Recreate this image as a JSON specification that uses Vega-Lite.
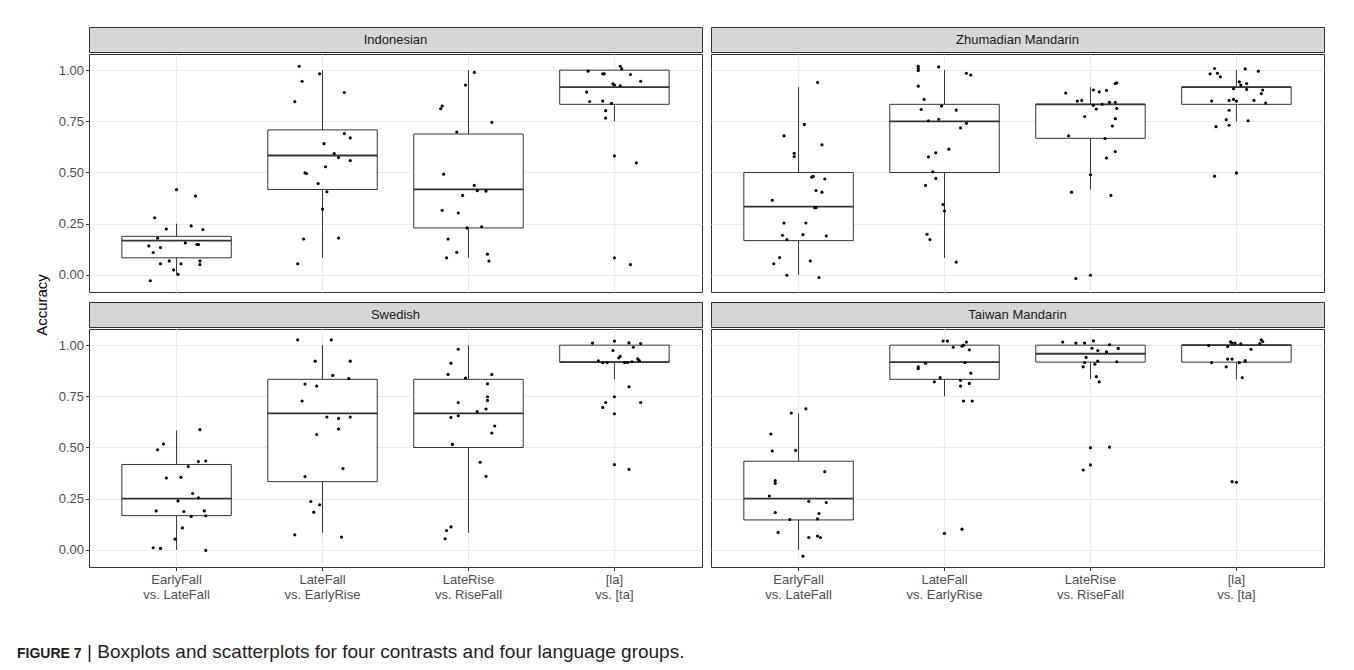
{
"$schema": "https://vega.github.io/schema/vega-lite/v6.json",
"padding": {"left": 17, "top": 26, "right": 5, "bottom": 5},
"background": "white",
"config": {
  "font": "Liberation Sans",
  "view": {"stroke": "#333333", "strokeWidth": 1},
  "axis": {"gridColor": "#EBEBEB", "domain": false, "tickColor": "#333333", "tickSize": 3.5, "labelColor": "#4D4D4D", "labelFontSize": 13, "labelFont": "Liberation Sans", "titleFont": "Liberation Sans", "titleFontWeight": "normal", "titleColor": "#000000", "titleFontSize": 15}
},
"datasets": {
"box": [
{"l":"Indonesian","c":"EarlyFall vs. LateFall","lo":0,"q1":0.083,"med":0.167,"q3":0.188,"hi":0.25},
{"l":"Indonesian","c":"LateFall vs. EarlyRise","lo":0.083,"q1":0.417,"med":0.583,"q3":0.708,"hi":1},
{"l":"Indonesian","c":"LateRise vs. RiseFall","lo":0.083,"q1":0.229,"med":0.417,"q3":0.688,"hi":1},
{"l":"Indonesian","c":"[la] vs. [ta]","lo":0.75,"q1":0.833,"med":0.917,"q3":1,"hi":1},
{"l":"Zhumadian Mandarin","c":"EarlyFall vs. LateFall","lo":0,"q1":0.167,"med":0.333,"q3":0.5,"hi":0.917},
{"l":"Zhumadian Mandarin","c":"LateFall vs. EarlyRise","lo":0.083,"q1":0.5,"med":0.75,"q3":0.833,"hi":1},
{"l":"Zhumadian Mandarin","c":"LateRise vs. RiseFall","lo":0.417,"q1":0.667,"med":0.833,"q3":0.833,"hi":0.917},
{"l":"Zhumadian Mandarin","c":"[la] vs. [ta]","lo":0.75,"q1":0.833,"med":0.917,"q3":0.917,"hi":1},
{"l":"Swedish","c":"EarlyFall vs. LateFall","lo":0,"q1":0.167,"med":0.25,"q3":0.417,"hi":0.583},
{"l":"Swedish","c":"LateFall vs. EarlyRise","lo":0.083,"q1":0.333,"med":0.667,"q3":0.833,"hi":1},
{"l":"Swedish","c":"LateRise vs. RiseFall","lo":0.083,"q1":0.5,"med":0.667,"q3":0.833,"hi":1},
{"l":"Swedish","c":"[la] vs. [ta]","lo":0.833,"q1":0.917,"med":0.917,"q3":1,"hi":1},
{"l":"Taiwan Mandarin","c":"EarlyFall vs. LateFall","lo":0,"q1":0.146,"med":0.25,"q3":0.433,"hi":0.667},
{"l":"Taiwan Mandarin","c":"LateFall vs. EarlyRise","lo":0.75,"q1":0.833,"med":0.917,"q3":1,"hi":1},
{"l":"Taiwan Mandarin","c":"LateRise vs. RiseFall","lo":0.833,"q1":0.917,"med":0.958,"q3":1,"hi":1},
{"l":"Taiwan Mandarin","c":"[la] vs. [ta]","lo":0.833,"q1":0.917,"med":1,"q3":1,"hi":1}
],
"pts": [
{"l":"Indonesian","c":"EarlyFall vs. LateFall","a":0.416,"j":0},
{"l":"Indonesian","c":"EarlyFall vs. LateFall","a":0.385,"j":0.13},
{"l":"Indonesian","c":"EarlyFall vs. LateFall","a":0.279,"j":-0.15},
{"l":"Indonesian","c":"EarlyFall vs. LateFall","a":0.224,"j":-0.07},
{"l":"Indonesian","c":"EarlyFall vs. LateFall","a":0.239,"j":0.1},
{"l":"Indonesian","c":"EarlyFall vs. LateFall","a":0.221,"j":0.18},
{"l":"Indonesian","c":"EarlyFall vs. LateFall","a":0.179,"j":-0.13},
{"l":"Indonesian","c":"EarlyFall vs. LateFall","a":0.141,"j":-0.19},
{"l":"Indonesian","c":"EarlyFall vs. LateFall","a":0.133,"j":-0.11},
{"l":"Indonesian","c":"EarlyFall vs. LateFall","a":0.109,"j":-0.16},
{"l":"Indonesian","c":"EarlyFall vs. LateFall","a":0.156,"j":0.06},
{"l":"Indonesian","c":"EarlyFall vs. LateFall","a":0.148,"j":0.14},
{"l":"Indonesian","c":"EarlyFall vs. LateFall","a":0.148,"j":0.15},
{"l":"Indonesian","c":"EarlyFall vs. LateFall","a":0.068,"j":0.16},
{"l":"Indonesian","c":"EarlyFall vs. LateFall","a":0.05,"j":0.16},
{"l":"Indonesian","c":"EarlyFall vs. LateFall","a":0.054,"j":-0.11},
{"l":"Indonesian","c":"EarlyFall vs. LateFall","a":0.068,"j":-0.05},
{"l":"Indonesian","c":"EarlyFall vs. LateFall","a":0.054,"j":0.03},
{"l":"Indonesian","c":"EarlyFall vs. LateFall","a":0.024,"j":-0.02},
{"l":"Indonesian","c":"EarlyFall vs. LateFall","a":0.002,"j":0.01},
{"l":"Indonesian","c":"EarlyFall vs. LateFall","a":-0.029,"j":-0.18},
{"l":"Indonesian","c":"LateFall vs. EarlyRise","a":1.019,"j":-0.16},
{"l":"Indonesian","c":"LateFall vs. EarlyRise","a":0.946,"j":-0.14},
{"l":"Indonesian","c":"LateFall vs. EarlyRise","a":0.982,"j":-0.02},
{"l":"Indonesian","c":"LateFall vs. EarlyRise","a":0.891,"j":0.15},
{"l":"Indonesian","c":"LateFall vs. EarlyRise","a":0.846,"j":-0.19},
{"l":"Indonesian","c":"LateFall vs. EarlyRise","a":0.69,"j":0.15},
{"l":"Indonesian","c":"LateFall vs. EarlyRise","a":0.669,"j":0.19},
{"l":"Indonesian","c":"LateFall vs. EarlyRise","a":0.641,"j":0.01},
{"l":"Indonesian","c":"LateFall vs. EarlyRise","a":0.593,"j":0.08},
{"l":"Indonesian","c":"LateFall vs. EarlyRise","a":0.573,"j":0.11},
{"l":"Indonesian","c":"LateFall vs. EarlyRise","a":0.558,"j":0.19},
{"l":"Indonesian","c":"LateFall vs. EarlyRise","a":0.528,"j":0.02},
{"l":"Indonesian","c":"LateFall vs. EarlyRise","a":0.498,"j":-0.12},
{"l":"Indonesian","c":"LateFall vs. EarlyRise","a":0.495,"j":-0.11},
{"l":"Indonesian","c":"LateFall vs. EarlyRise","a":0.446,"j":-0.03},
{"l":"Indonesian","c":"LateFall vs. EarlyRise","a":0.406,"j":0.03},
{"l":"Indonesian","c":"LateFall vs. EarlyRise","a":0.321,"j":0},
{"l":"Indonesian","c":"LateFall vs. EarlyRise","a":0.175,"j":-0.13},
{"l":"Indonesian","c":"LateFall vs. EarlyRise","a":0.18,"j":0.11},
{"l":"Indonesian","c":"LateFall vs. EarlyRise","a":0.054,"j":-0.17},
{"l":"Indonesian","c":"LateRise vs. RiseFall","a":0.989,"j":0.04},
{"l":"Indonesian","c":"LateRise vs. RiseFall","a":0.927,"j":-0.02},
{"l":"Indonesian","c":"LateRise vs. RiseFall","a":0.812,"j":-0.19},
{"l":"Indonesian","c":"LateRise vs. RiseFall","a":0.825,"j":-0.18},
{"l":"Indonesian","c":"LateRise vs. RiseFall","a":0.745,"j":0.16},
{"l":"Indonesian","c":"LateRise vs. RiseFall","a":0.698,"j":-0.08},
{"l":"Indonesian","c":"LateRise vs. RiseFall","a":0.492,"j":-0.17},
{"l":"Indonesian","c":"LateRise vs. RiseFall","a":0.437,"j":0.04},
{"l":"Indonesian","c":"LateRise vs. RiseFall","a":0.411,"j":0.06},
{"l":"Indonesian","c":"LateRise vs. RiseFall","a":0.409,"j":0.12},
{"l":"Indonesian","c":"LateRise vs. RiseFall","a":0.388,"j":-0.04},
{"l":"Indonesian","c":"LateRise vs. RiseFall","a":0.315,"j":-0.18},
{"l":"Indonesian","c":"LateRise vs. RiseFall","a":0.302,"j":-0.07},
{"l":"Indonesian","c":"LateRise vs. RiseFall","a":0.229,"j":-0.01},
{"l":"Indonesian","c":"LateRise vs. RiseFall","a":0.235,"j":0.09},
{"l":"Indonesian","c":"LateRise vs. RiseFall","a":0.175,"j":-0.14},
{"l":"Indonesian","c":"LateRise vs. RiseFall","a":0.11,"j":-0.08},
{"l":"Indonesian","c":"LateRise vs. RiseFall","a":0.083,"j":-0.15},
{"l":"Indonesian","c":"LateRise vs. RiseFall","a":0.101,"j":0.13},
{"l":"Indonesian","c":"LateRise vs. RiseFall","a":0.067,"j":0.14},
{"l":"Indonesian","c":"[la] vs. [ta]","a":1.019,"j":0.04},
{"l":"Indonesian","c":"[la] vs. [ta]","a":1.006,"j":0.05},
{"l":"Indonesian","c":"[la] vs. [ta]","a":0.995,"j":-0.18},
{"l":"Indonesian","c":"[la] vs. [ta]","a":0.982,"j":-0.08},
{"l":"Indonesian","c":"[la] vs. [ta]","a":0.982,"j":-0.07},
{"l":"Indonesian","c":"[la] vs. [ta]","a":0.979,"j":0.11},
{"l":"Indonesian","c":"[la] vs. [ta]","a":0.946,"j":0.18},
{"l":"Indonesian","c":"[la] vs. [ta]","a":0.933,"j":-0.01},
{"l":"Indonesian","c":"[la] vs. [ta]","a":0.927,"j":0},
{"l":"Indonesian","c":"[la] vs. [ta]","a":0.924,"j":0.04},
{"l":"Indonesian","c":"[la] vs. [ta]","a":0.893,"j":-0.19},
{"l":"Indonesian","c":"[la] vs. [ta]","a":0.847,"j":-0.17},
{"l":"Indonesian","c":"[la] vs. [ta]","a":0.849,"j":-0.08},
{"l":"Indonesian","c":"[la] vs. [ta]","a":0.838,"j":-0.02},
{"l":"Indonesian","c":"[la] vs. [ta]","a":0.802,"j":-0.06},
{"l":"Indonesian","c":"[la] vs. [ta]","a":0.766,"j":-0.06},
{"l":"Indonesian","c":"[la] vs. [ta]","a":0.581,"j":0},
{"l":"Indonesian","c":"[la] vs. [ta]","a":0.547,"j":0.15},
{"l":"Indonesian","c":"[la] vs. [ta]","a":0.083,"j":0},
{"l":"Indonesian","c":"[la] vs. [ta]","a":0.05,"j":0.11},
{"l":"Zhumadian Mandarin","c":"EarlyFall vs. LateFall","a":0.94,"j":0.13},
{"l":"Zhumadian Mandarin","c":"EarlyFall vs. LateFall","a":0.735,"j":0.04},
{"l":"Zhumadian Mandarin","c":"EarlyFall vs. LateFall","a":0.679,"j":-0.1},
{"l":"Zhumadian Mandarin","c":"EarlyFall vs. LateFall","a":0.635,"j":0.16},
{"l":"Zhumadian Mandarin","c":"EarlyFall vs. LateFall","a":0.594,"j":-0.03},
{"l":"Zhumadian Mandarin","c":"EarlyFall vs. LateFall","a":0.578,"j":-0.03},
{"l":"Zhumadian Mandarin","c":"EarlyFall vs. LateFall","a":0.481,"j":0.1},
{"l":"Zhumadian Mandarin","c":"EarlyFall vs. LateFall","a":0.477,"j":0.09},
{"l":"Zhumadian Mandarin","c":"EarlyFall vs. LateFall","a":0.468,"j":0.18},
{"l":"Zhumadian Mandarin","c":"EarlyFall vs. LateFall","a":0.412,"j":0.12},
{"l":"Zhumadian Mandarin","c":"EarlyFall vs. LateFall","a":0.404,"j":0.16},
{"l":"Zhumadian Mandarin","c":"EarlyFall vs. LateFall","a":0.364,"j":-0.18},
{"l":"Zhumadian Mandarin","c":"EarlyFall vs. LateFall","a":0.328,"j":0.11},
{"l":"Zhumadian Mandarin","c":"EarlyFall vs. LateFall","a":0.328,"j":0.12},
{"l":"Zhumadian Mandarin","c":"EarlyFall vs. LateFall","a":0.253,"j":-0.1},
{"l":"Zhumadian Mandarin","c":"EarlyFall vs. LateFall","a":0.253,"j":0.05},
{"l":"Zhumadian Mandarin","c":"EarlyFall vs. LateFall","a":0.193,"j":-0.11},
{"l":"Zhumadian Mandarin","c":"EarlyFall vs. LateFall","a":0.196,"j":0.03},
{"l":"Zhumadian Mandarin","c":"EarlyFall vs. LateFall","a":0.19,"j":0.19},
{"l":"Zhumadian Mandarin","c":"EarlyFall vs. LateFall","a":0.172,"j":-0.08},
{"l":"Zhumadian Mandarin","c":"EarlyFall vs. LateFall","a":0.084,"j":-0.13},
{"l":"Zhumadian Mandarin","c":"EarlyFall vs. LateFall","a":0.054,"j":-0.17},
{"l":"Zhumadian Mandarin","c":"EarlyFall vs. LateFall","a":0.068,"j":0.08},
{"l":"Zhumadian Mandarin","c":"EarlyFall vs. LateFall","a":-0.002,"j":-0.08},
{"l":"Zhumadian Mandarin","c":"EarlyFall vs. LateFall","a":-0.013,"j":0.14},
{"l":"Zhumadian Mandarin","c":"LateFall vs. EarlyRise","a":1.019,"j":-0.18},
{"l":"Zhumadian Mandarin","c":"LateFall vs. EarlyRise","a":1.008,"j":-0.18},
{"l":"Zhumadian Mandarin","c":"LateFall vs. EarlyRise","a":0.998,"j":-0.18},
{"l":"Zhumadian Mandarin","c":"LateFall vs. EarlyRise","a":1.016,"j":-0.04},
{"l":"Zhumadian Mandarin","c":"LateFall vs. EarlyRise","a":0.985,"j":0.15},
{"l":"Zhumadian Mandarin","c":"LateFall vs. EarlyRise","a":0.976,"j":0.18},
{"l":"Zhumadian Mandarin","c":"LateFall vs. EarlyRise","a":0.922,"j":-0.18},
{"l":"Zhumadian Mandarin","c":"LateFall vs. EarlyRise","a":0.857,"j":-0.14},
{"l":"Zhumadian Mandarin","c":"LateFall vs. EarlyRise","a":0.825,"j":-0.02},
{"l":"Zhumadian Mandarin","c":"LateFall vs. EarlyRise","a":0.808,"j":-0.16},
{"l":"Zhumadian Mandarin","c":"LateFall vs. EarlyRise","a":0.805,"j":0.08},
{"l":"Zhumadian Mandarin","c":"LateFall vs. EarlyRise","a":0.753,"j":-0.11},
{"l":"Zhumadian Mandarin","c":"LateFall vs. EarlyRise","a":0.76,"j":-0.04},
{"l":"Zhumadian Mandarin","c":"LateFall vs. EarlyRise","a":0.74,"j":0.15},
{"l":"Zhumadian Mandarin","c":"LateFall vs. EarlyRise","a":0.718,"j":0.11},
{"l":"Zhumadian Mandarin","c":"LateFall vs. EarlyRise","a":0.614,"j":0.03},
{"l":"Zhumadian Mandarin","c":"LateFall vs. EarlyRise","a":0.596,"j":-0.06},
{"l":"Zhumadian Mandarin","c":"LateFall vs. EarlyRise","a":0.576,"j":-0.11},
{"l":"Zhumadian Mandarin","c":"LateFall vs. EarlyRise","a":0.503,"j":-0.08},
{"l":"Zhumadian Mandarin","c":"LateFall vs. EarlyRise","a":0.471,"j":-0.06},
{"l":"Zhumadian Mandarin","c":"LateFall vs. EarlyRise","a":0.437,"j":-0.13},
{"l":"Zhumadian Mandarin","c":"LateFall vs. EarlyRise","a":0.343,"j":-0.01},
{"l":"Zhumadian Mandarin","c":"LateFall vs. EarlyRise","a":0.312,"j":0},
{"l":"Zhumadian Mandarin","c":"LateFall vs. EarlyRise","a":0.198,"j":-0.12},
{"l":"Zhumadian Mandarin","c":"LateFall vs. EarlyRise","a":0.172,"j":-0.1},
{"l":"Zhumadian Mandarin","c":"LateFall vs. EarlyRise","a":0.062,"j":0.08},
{"l":"Zhumadian Mandarin","c":"LateRise vs. RiseFall","a":0.938,"j":0.18},
{"l":"Zhumadian Mandarin","c":"LateRise vs. RiseFall","a":0.935,"j":0.17},
{"l":"Zhumadian Mandarin","c":"LateRise vs. RiseFall","a":0.888,"j":-0.17},
{"l":"Zhumadian Mandarin","c":"LateRise vs. RiseFall","a":0.903,"j":0.02},
{"l":"Zhumadian Mandarin","c":"LateRise vs. RiseFall","a":0.894,"j":0.06},
{"l":"Zhumadian Mandarin","c":"LateRise vs. RiseFall","a":0.901,"j":0.11},
{"l":"Zhumadian Mandarin","c":"LateRise vs. RiseFall","a":0.849,"j":-0.09},
{"l":"Zhumadian Mandarin","c":"LateRise vs. RiseFall","a":0.852,"j":-0.06},
{"l":"Zhumadian Mandarin","c":"LateRise vs. RiseFall","a":0.843,"j":0.13},
{"l":"Zhumadian Mandarin","c":"LateRise vs. RiseFall","a":0.843,"j":0.17},
{"l":"Zhumadian Mandarin","c":"LateRise vs. RiseFall","a":0.828,"j":0.02},
{"l":"Zhumadian Mandarin","c":"LateRise vs. RiseFall","a":0.833,"j":0.08},
{"l":"Zhumadian Mandarin","c":"LateRise vs. RiseFall","a":0.81,"j":0.04},
{"l":"Zhumadian Mandarin","c":"LateRise vs. RiseFall","a":0.813,"j":0.18},
{"l":"Zhumadian Mandarin","c":"LateRise vs. RiseFall","a":0.773,"j":-0.04},
{"l":"Zhumadian Mandarin","c":"LateRise vs. RiseFall","a":0.763,"j":0.17},
{"l":"Zhumadian Mandarin","c":"LateRise vs. RiseFall","a":0.727,"j":0.15},
{"l":"Zhumadian Mandarin","c":"LateRise vs. RiseFall","a":0.679,"j":-0.15},
{"l":"Zhumadian Mandarin","c":"LateRise vs. RiseFall","a":0.666,"j":0.1},
{"l":"Zhumadian Mandarin","c":"LateRise vs. RiseFall","a":0.602,"j":0.17},
{"l":"Zhumadian Mandarin","c":"LateRise vs. RiseFall","a":0.571,"j":0.11},
{"l":"Zhumadian Mandarin","c":"LateRise vs. RiseFall","a":0.489,"j":0},
{"l":"Zhumadian Mandarin","c":"LateRise vs. RiseFall","a":0.404,"j":-0.13},
{"l":"Zhumadian Mandarin","c":"LateRise vs. RiseFall","a":0.388,"j":0.14},
{"l":"Zhumadian Mandarin","c":"LateRise vs. RiseFall","a":-0.018,"j":-0.1},
{"l":"Zhumadian Mandarin","c":"LateRise vs. RiseFall","a":-0.002,"j":0},
{"l":"Zhumadian Mandarin","c":"[la] vs. [ta]","a":1.008,"j":-0.15},
{"l":"Zhumadian Mandarin","c":"[la] vs. [ta]","a":1.006,"j":0.06},
{"l":"Zhumadian Mandarin","c":"[la] vs. [ta]","a":0.982,"j":-0.18},
{"l":"Zhumadian Mandarin","c":"[la] vs. [ta]","a":0.985,"j":-0.13},
{"l":"Zhumadian Mandarin","c":"[la] vs. [ta]","a":0.968,"j":-0.11},
{"l":"Zhumadian Mandarin","c":"[la] vs. [ta]","a":0.995,"j":0.15},
{"l":"Zhumadian Mandarin","c":"[la] vs. [ta]","a":0.943,"j":0.02},
{"l":"Zhumadian Mandarin","c":"[la] vs. [ta]","a":0.927,"j":0.03},
{"l":"Zhumadian Mandarin","c":"[la] vs. [ta]","a":0.935,"j":0.07},
{"l":"Zhumadian Mandarin","c":"[la] vs. [ta]","a":0.909,"j":-0.02},
{"l":"Zhumadian Mandarin","c":"[la] vs. [ta]","a":0.906,"j":0.07},
{"l":"Zhumadian Mandarin","c":"[la] vs. [ta]","a":0.903,"j":0.18},
{"l":"Zhumadian Mandarin","c":"[la] vs. [ta]","a":0.885,"j":0.17},
{"l":"Zhumadian Mandarin","c":"[la] vs. [ta]","a":0.849,"j":-0.17},
{"l":"Zhumadian Mandarin","c":"[la] vs. [ta]","a":0.852,"j":-0.05},
{"l":"Zhumadian Mandarin","c":"[la] vs. [ta]","a":0.857,"j":-0.02},
{"l":"Zhumadian Mandarin","c":"[la] vs. [ta]","a":0.849,"j":0},
{"l":"Zhumadian Mandarin","c":"[la] vs. [ta]","a":0.852,"j":0.12},
{"l":"Zhumadian Mandarin","c":"[la] vs. [ta]","a":0.839,"j":0.2},
{"l":"Zhumadian Mandarin","c":"[la] vs. [ta]","a":0.804,"j":-0.05},
{"l":"Zhumadian Mandarin","c":"[la] vs. [ta]","a":0.758,"j":-0.07},
{"l":"Zhumadian Mandarin","c":"[la] vs. [ta]","a":0.753,"j":0.08},
{"l":"Zhumadian Mandarin","c":"[la] vs. [ta]","a":0.724,"j":-0.14},
{"l":"Zhumadian Mandarin","c":"[la] vs. [ta]","a":0.731,"j":-0.05},
{"l":"Zhumadian Mandarin","c":"[la] vs. [ta]","a":0.482,"j":-0.15},
{"l":"Zhumadian Mandarin","c":"[la] vs. [ta]","a":0.498,"j":0},
{"l":"Swedish","c":"EarlyFall vs. LateFall","a":0.587,"j":0.16},
{"l":"Swedish","c":"EarlyFall vs. LateFall","a":0.517,"j":-0.09},
{"l":"Swedish","c":"EarlyFall vs. LateFall","a":0.489,"j":-0.13},
{"l":"Swedish","c":"EarlyFall vs. LateFall","a":0.434,"j":0.2},
{"l":"Swedish","c":"EarlyFall vs. LateFall","a":0.431,"j":0.15},
{"l":"Swedish","c":"EarlyFall vs. LateFall","a":0.407,"j":0.08},
{"l":"Swedish","c":"EarlyFall vs. LateFall","a":0.351,"j":-0.07},
{"l":"Swedish","c":"EarlyFall vs. LateFall","a":0.354,"j":0.03},
{"l":"Swedish","c":"EarlyFall vs. LateFall","a":0.275,"j":0.11},
{"l":"Swedish","c":"EarlyFall vs. LateFall","a":0.254,"j":0.15},
{"l":"Swedish","c":"EarlyFall vs. LateFall","a":0.239,"j":0.01},
{"l":"Swedish","c":"EarlyFall vs. LateFall","a":0.19,"j":-0.14},
{"l":"Swedish","c":"EarlyFall vs. LateFall","a":0.187,"j":0.05},
{"l":"Swedish","c":"EarlyFall vs. LateFall","a":0.19,"j":0.19},
{"l":"Swedish","c":"EarlyFall vs. LateFall","a":0.163,"j":0.1},
{"l":"Swedish","c":"EarlyFall vs. LateFall","a":0.166,"j":0.2},
{"l":"Swedish","c":"EarlyFall vs. LateFall","a":0.107,"j":0.04},
{"l":"Swedish","c":"EarlyFall vs. LateFall","a":0.052,"j":-0.01},
{"l":"Swedish","c":"EarlyFall vs. LateFall","a":0.01,"j":-0.16},
{"l":"Swedish","c":"EarlyFall vs. LateFall","a":0.007,"j":-0.11},
{"l":"Swedish","c":"EarlyFall vs. LateFall","a":-0.003,"j":0.2},
{"l":"Swedish","c":"LateFall vs. EarlyRise","a":1.026,"j":-0.17},
{"l":"Swedish","c":"LateFall vs. EarlyRise","a":1.026,"j":0.06},
{"l":"Swedish","c":"LateFall vs. EarlyRise","a":0.922,"j":-0.05},
{"l":"Swedish","c":"LateFall vs. EarlyRise","a":0.922,"j":0.19},
{"l":"Swedish","c":"LateFall vs. EarlyRise","a":0.852,"j":0.07},
{"l":"Swedish","c":"LateFall vs. EarlyRise","a":0.837,"j":0.18},
{"l":"Swedish","c":"LateFall vs. EarlyRise","a":0.81,"j":-0.12},
{"l":"Swedish","c":"LateFall vs. EarlyRise","a":0.8,"j":-0.04},
{"l":"Swedish","c":"LateFall vs. EarlyRise","a":0.727,"j":-0.14},
{"l":"Swedish","c":"LateFall vs. EarlyRise","a":0.649,"j":0.03},
{"l":"Swedish","c":"LateFall vs. EarlyRise","a":0.642,"j":0.11},
{"l":"Swedish","c":"LateFall vs. EarlyRise","a":0.649,"j":0.19},
{"l":"Swedish","c":"LateFall vs. EarlyRise","a":0.59,"j":0.11},
{"l":"Swedish","c":"LateFall vs. EarlyRise","a":0.563,"j":-0.04},
{"l":"Swedish","c":"LateFall vs. EarlyRise","a":0.397,"j":0.14},
{"l":"Swedish","c":"LateFall vs. EarlyRise","a":0.358,"j":-0.12},
{"l":"Swedish","c":"LateFall vs. EarlyRise","a":0.236,"j":-0.08},
{"l":"Swedish","c":"LateFall vs. EarlyRise","a":0.22,"j":-0.02},
{"l":"Swedish","c":"LateFall vs. EarlyRise","a":0.184,"j":-0.06},
{"l":"Swedish","c":"LateFall vs. EarlyRise","a":0.073,"j":-0.19},
{"l":"Swedish","c":"LateFall vs. EarlyRise","a":0.062,"j":0.13},
{"l":"Swedish","c":"LateRise vs. RiseFall","a":0.98,"j":-0.07},
{"l":"Swedish","c":"LateRise vs. RiseFall","a":0.912,"j":-0.12},
{"l":"Swedish","c":"LateRise vs. RiseFall","a":0.857,"j":-0.14},
{"l":"Swedish","c":"LateRise vs. RiseFall","a":0.839,"j":-0.02},
{"l":"Swedish","c":"LateRise vs. RiseFall","a":0.857,"j":0.16},
{"l":"Swedish","c":"LateRise vs. RiseFall","a":0.811,"j":0.13},
{"l":"Swedish","c":"LateRise vs. RiseFall","a":0.748,"j":0.13},
{"l":"Swedish","c":"LateRise vs. RiseFall","a":0.73,"j":0.13},
{"l":"Swedish","c":"LateRise vs. RiseFall","a":0.72,"j":-0.07},
{"l":"Swedish","c":"LateRise vs. RiseFall","a":0.675,"j":0.06},
{"l":"Swedish","c":"LateRise vs. RiseFall","a":0.688,"j":0.12},
{"l":"Swedish","c":"LateRise vs. RiseFall","a":0.655,"j":-0.07},
{"l":"Swedish","c":"LateRise vs. RiseFall","a":0.647,"j":-0.12},
{"l":"Swedish","c":"LateRise vs. RiseFall","a":0.605,"j":0.18},
{"l":"Swedish","c":"LateRise vs. RiseFall","a":0.571,"j":0.16},
{"l":"Swedish","c":"LateRise vs. RiseFall","a":0.515,"j":-0.11},
{"l":"Swedish","c":"LateRise vs. RiseFall","a":0.428,"j":0.08},
{"l":"Swedish","c":"LateRise vs. RiseFall","a":0.359,"j":0.12},
{"l":"Swedish","c":"LateRise vs. RiseFall","a":0.112,"j":-0.12},
{"l":"Swedish","c":"LateRise vs. RiseFall","a":0.094,"j":-0.15},
{"l":"Swedish","c":"LateRise vs. RiseFall","a":0.054,"j":-0.16},
{"l":"Swedish","c":"[la] vs. [ta]","a":1.01,"j":-0.15},
{"l":"Swedish","c":"[la] vs. [ta]","a":1.02,"j":0},
{"l":"Swedish","c":"[la] vs. [ta]","a":1.011,"j":0.1},
{"l":"Swedish","c":"[la] vs. [ta]","a":1.008,"j":0.18},
{"l":"Swedish","c":"[la] vs. [ta]","a":0.99,"j":0.13},
{"l":"Swedish","c":"[la] vs. [ta]","a":0.974,"j":-0.01},
{"l":"Swedish","c":"[la] vs. [ta]","a":0.945,"j":0.04},
{"l":"Swedish","c":"[la] vs. [ta]","a":0.938,"j":0.03},
{"l":"Swedish","c":"[la] vs. [ta]","a":0.933,"j":0.16},
{"l":"Swedish","c":"[la] vs. [ta]","a":0.925,"j":0.17},
{"l":"Swedish","c":"[la] vs. [ta]","a":0.924,"j":-0.11},
{"l":"Swedish","c":"[la] vs. [ta]","a":0.914,"j":-0.08},
{"l":"Swedish","c":"[la] vs. [ta]","a":0.915,"j":-0.05},
{"l":"Swedish","c":"[la] vs. [ta]","a":0.915,"j":0.07},
{"l":"Swedish","c":"[la] vs. [ta]","a":0.915,"j":0.09},
{"l":"Swedish","c":"[la] vs. [ta]","a":0.919,"j":0.12},
{"l":"Swedish","c":"[la] vs. [ta]","a":0.797,"j":0.1},
{"l":"Swedish","c":"[la] vs. [ta]","a":0.748,"j":0},
{"l":"Swedish","c":"[la] vs. [ta]","a":0.72,"j":-0.06},
{"l":"Swedish","c":"[la] vs. [ta]","a":0.696,"j":-0.08},
{"l":"Swedish","c":"[la] vs. [ta]","a":0.72,"j":0.18},
{"l":"Swedish","c":"[la] vs. [ta]","a":0.665,"j":0},
{"l":"Swedish","c":"[la] vs. [ta]","a":0.416,"j":0},
{"l":"Swedish","c":"[la] vs. [ta]","a":0.393,"j":0.1},
{"l":"Taiwan Mandarin","c":"EarlyFall vs. LateFall","a":0.689,"j":0.05},
{"l":"Taiwan Mandarin","c":"EarlyFall vs. LateFall","a":0.668,"j":-0.05},
{"l":"Taiwan Mandarin","c":"EarlyFall vs. LateFall","a":0.566,"j":-0.19},
{"l":"Taiwan Mandarin","c":"EarlyFall vs. LateFall","a":0.483,"j":-0.18},
{"l":"Taiwan Mandarin","c":"EarlyFall vs. LateFall","a":0.486,"j":-0.02},
{"l":"Taiwan Mandarin","c":"EarlyFall vs. LateFall","a":0.382,"j":0.18},
{"l":"Taiwan Mandarin","c":"EarlyFall vs. LateFall","a":0.338,"j":-0.16},
{"l":"Taiwan Mandarin","c":"EarlyFall vs. LateFall","a":0.325,"j":-0.16},
{"l":"Taiwan Mandarin","c":"EarlyFall vs. LateFall","a":0.263,"j":-0.2},
{"l":"Taiwan Mandarin","c":"EarlyFall vs. LateFall","a":0.237,"j":0.07},
{"l":"Taiwan Mandarin","c":"EarlyFall vs. LateFall","a":0.231,"j":0.19},
{"l":"Taiwan Mandarin","c":"EarlyFall vs. LateFall","a":0.182,"j":-0.16},
{"l":"Taiwan Mandarin","c":"EarlyFall vs. LateFall","a":0.177,"j":0.14},
{"l":"Taiwan Mandarin","c":"EarlyFall vs. LateFall","a":0.148,"j":-0.06},
{"l":"Taiwan Mandarin","c":"EarlyFall vs. LateFall","a":0.151,"j":0.13},
{"l":"Taiwan Mandarin","c":"EarlyFall vs. LateFall","a":0.085,"j":-0.14},
{"l":"Taiwan Mandarin","c":"EarlyFall vs. LateFall","a":0.06,"j":0.07},
{"l":"Taiwan Mandarin","c":"EarlyFall vs. LateFall","a":0.067,"j":0.13},
{"l":"Taiwan Mandarin","c":"EarlyFall vs. LateFall","a":0.06,"j":0.15},
{"l":"Taiwan Mandarin","c":"EarlyFall vs. LateFall","a":-0.031,"j":0.03},
{"l":"Taiwan Mandarin","c":"LateFall vs. EarlyRise","a":1.02,"j":-0.01},
{"l":"Taiwan Mandarin","c":"LateFall vs. EarlyRise","a":1.02,"j":0.02},
{"l":"Taiwan Mandarin","c":"LateFall vs. EarlyRise","a":1.015,"j":0.15},
{"l":"Taiwan Mandarin","c":"LateFall vs. EarlyRise","a":1,"j":0.13},
{"l":"Taiwan Mandarin","c":"LateFall vs. EarlyRise","a":0.995,"j":0.12},
{"l":"Taiwan Mandarin","c":"LateFall vs. EarlyRise","a":0.99,"j":0.06},
{"l":"Taiwan Mandarin","c":"LateFall vs. EarlyRise","a":0.977,"j":0.17},
{"l":"Taiwan Mandarin","c":"LateFall vs. EarlyRise","a":0.912,"j":-0.13},
{"l":"Taiwan Mandarin","c":"LateFall vs. EarlyRise","a":0.894,"j":-0.18},
{"l":"Taiwan Mandarin","c":"LateFall vs. EarlyRise","a":0.885,"j":-0.18},
{"l":"Taiwan Mandarin","c":"LateFall vs. EarlyRise","a":0.915,"j":0.14},
{"l":"Taiwan Mandarin","c":"LateFall vs. EarlyRise","a":0.863,"j":0.18},
{"l":"Taiwan Mandarin","c":"LateFall vs. EarlyRise","a":0.841,"j":-0.03},
{"l":"Taiwan Mandarin","c":"LateFall vs. EarlyRise","a":0.821,"j":-0.07},
{"l":"Taiwan Mandarin","c":"LateFall vs. EarlyRise","a":0.828,"j":0.11},
{"l":"Taiwan Mandarin","c":"LateFall vs. EarlyRise","a":0.813,"j":0.17},
{"l":"Taiwan Mandarin","c":"LateFall vs. EarlyRise","a":0.8,"j":0.11},
{"l":"Taiwan Mandarin","c":"LateFall vs. EarlyRise","a":0.727,"j":0.13},
{"l":"Taiwan Mandarin","c":"LateFall vs. EarlyRise","a":0.727,"j":0.19},
{"l":"Taiwan Mandarin","c":"LateFall vs. EarlyRise","a":0.08,"j":0},
{"l":"Taiwan Mandarin","c":"LateFall vs. EarlyRise","a":0.101,"j":0.12},
{"l":"Taiwan Mandarin","c":"LateRise vs. RiseFall","a":1.015,"j":-0.19},
{"l":"Taiwan Mandarin","c":"LateRise vs. RiseFall","a":1.01,"j":-0.1},
{"l":"Taiwan Mandarin","c":"LateRise vs. RiseFall","a":1.01,"j":-0.04},
{"l":"Taiwan Mandarin","c":"LateRise vs. RiseFall","a":1.021,"j":0.02},
{"l":"Taiwan Mandarin","c":"LateRise vs. RiseFall","a":1.002,"j":0.13},
{"l":"Taiwan Mandarin","c":"LateRise vs. RiseFall","a":0.985,"j":0.01},
{"l":"Taiwan Mandarin","c":"LateRise vs. RiseFall","a":0.974,"j":0.05},
{"l":"Taiwan Mandarin","c":"LateRise vs. RiseFall","a":0.967,"j":0.11},
{"l":"Taiwan Mandarin","c":"LateRise vs. RiseFall","a":0.984,"j":0.19},
{"l":"Taiwan Mandarin","c":"LateRise vs. RiseFall","a":0.94,"j":-0.03},
{"l":"Taiwan Mandarin","c":"LateRise vs. RiseFall","a":0.915,"j":-0.04},
{"l":"Taiwan Mandarin","c":"LateRise vs. RiseFall","a":0.922,"j":0.05},
{"l":"Taiwan Mandarin","c":"LateRise vs. RiseFall","a":0.907,"j":0.03},
{"l":"Taiwan Mandarin","c":"LateRise vs. RiseFall","a":0.919,"j":0.18},
{"l":"Taiwan Mandarin","c":"LateRise vs. RiseFall","a":0.894,"j":-0.05},
{"l":"Taiwan Mandarin","c":"LateRise vs. RiseFall","a":0.846,"j":0.04},
{"l":"Taiwan Mandarin","c":"LateRise vs. RiseFall","a":0.821,"j":0.06},
{"l":"Taiwan Mandarin","c":"LateRise vs. RiseFall","a":0.499,"j":0},
{"l":"Taiwan Mandarin","c":"LateRise vs. RiseFall","a":0.502,"j":0.13},
{"l":"Taiwan Mandarin","c":"LateRise vs. RiseFall","a":0.415,"j":0},
{"l":"Taiwan Mandarin","c":"LateRise vs. RiseFall","a":0.39,"j":-0.05},
{"l":"Taiwan Mandarin","c":"[la] vs. [ta]","a":1.026,"j":0.17},
{"l":"Taiwan Mandarin","c":"[la] vs. [ta]","a":1.018,"j":0.18},
{"l":"Taiwan Mandarin","c":"[la] vs. [ta]","a":1.008,"j":0.16},
{"l":"Taiwan Mandarin","c":"[la] vs. [ta]","a":1.016,"j":-0.04},
{"l":"Taiwan Mandarin","c":"[la] vs. [ta]","a":1.01,"j":-0.03},
{"l":"Taiwan Mandarin","c":"[la] vs. [ta]","a":1.01,"j":-0.01},
{"l":"Taiwan Mandarin","c":"[la] vs. [ta]","a":1.007,"j":0.03},
{"l":"Taiwan Mandarin","c":"[la] vs. [ta]","a":0.998,"j":-0.19},
{"l":"Taiwan Mandarin","c":"[la] vs. [ta]","a":0.993,"j":-0.06},
{"l":"Taiwan Mandarin","c":"[la] vs. [ta]","a":0.98,"j":0.1},
{"l":"Taiwan Mandarin","c":"[la] vs. [ta]","a":0.932,"j":-0.06},
{"l":"Taiwan Mandarin","c":"[la] vs. [ta]","a":0.932,"j":-0.03},
{"l":"Taiwan Mandarin","c":"[la] vs. [ta]","a":0.915,"j":-0.17},
{"l":"Taiwan Mandarin","c":"[la] vs. [ta]","a":0.915,"j":0.02},
{"l":"Taiwan Mandarin","c":"[la] vs. [ta]","a":0.925,"j":0.06},
{"l":"Taiwan Mandarin","c":"[la] vs. [ta]","a":0.92,"j":0.06},
{"l":"Taiwan Mandarin","c":"[la] vs. [ta]","a":0.894,"j":-0.07},
{"l":"Taiwan Mandarin","c":"[la] vs. [ta]","a":0.841,"j":0.04},
{"l":"Taiwan Mandarin","c":"[la] vs. [ta]","a":0.333,"j":-0.03},
{"l":"Taiwan Mandarin","c":"[la] vs. [ta]","a":0.33,"j":0}
]
},
"title": {"text": "FIGURE 7", "orient": "bottom", "anchor": "start", "frame": "group", "baseline": "alphabetic", "dx": -17, "dy": -4, "offset": 0, "fontSize": 14, "fontWeight": "bold", "color": "#231F20", "font": "Liberation Sans"},
"spacing": 7,
"hconcat": [
{"width": 16, "height": 556, "data": {"values": [{"t": "Accuracy"}]}, "mark": {"type": "text", "angle": 270, "fontSize": 15, "color": "#000000", "baseline": "middle", "align": "center", "font": "Liberation Sans"}, "encoding": {"text": {"field": "t"}}, "view": {"stroke": null}},
{
"title": {"text": "|  Boxplots and scatterplots for four contrasts and four language groups.", "orient": "bottom", "anchor": "start", "frame": "group", "baseline": "alphabetic", "dx": -2, "offset": 56, "fontSize": 19, "fontWeight": "normal", "color": "#231F20", "font": "Liberation Sans"},
"spacing": 8,
"vconcat": [
{"spacing": 7, "hconcat": [
 {"spacing": 0, "vconcat": [
  {"width": 613, "height": 25, "data": {"values": [{"lang": "Indonesian"}]}, "mark": {"type": "text", "fontSize": 13, "color": "#1A1A1A", "baseline": "middle", "font": "Liberation Sans"}, "encoding": {"text": {"field": "lang"}}, "view": {"fill": "#D6D6D6", "stroke": "#333333"}},
  {"width": 613, "height": 238,
   "resolve": {"scale": {"xOffset": "independent"}},
   "encoding": {"x": {"field": "c", "type": "nominal", "scale": {"domain": ["EarlyFall vs. LateFall", "LateFall vs. EarlyRise", "LateRise vs. RiseFall", "[la] vs. [ta]"], "paddingInner": 0.25, "paddingOuter": 0.225}, "axis": {"title": null, "labels": false, "ticks": false, "grid": true, "gridWidth": 1.1, "bandPosition": 0.5}}},
   "layer": [
    {"data": {"name": "box"}, "transform": [{"filter": {"field": "l", "equal": "Indonesian"}}], "mark": {"type": "rule", "color": "#333333", "strokeWidth": 1},
     "encoding": {"y": {"field": "lo", "type": "quantitative", "scale": {"domain": [-0.084, 1.079], "nice": false, "zero": false}, "axis": {"title": null, "values": [0, 0.125, 0.25, 0.375, 0.5, 0.625, 0.75, 0.875, 1], "format": ".2f", "labelExpr": "(datum.value * 4) % 1 == 0 ? datum.label : ''", "gridWidth": {"condition": {"test": "(datum.value * 4) % 1 != 0", "value": 0.5}, "value": 1.1}, "tickOpacity": {"condition": {"test": "(datum.value * 4) % 1 != 0", "value": 0}, "value": 1}, "labelPadding": 2}}, "y2": {"field": "q1"}}},
    {"data": {"name": "box"}, "transform": [{"filter": {"field": "l", "equal": "Indonesian"}}], "mark": {"type": "rule", "color": "#333333", "strokeWidth": 1},
     "encoding": {"y": {"field": "q3", "type": "quantitative", "title": null}, "y2": {"field": "hi"}}},
    {"data": {"name": "box"}, "transform": [{"filter": {"field": "l", "equal": "Indonesian"}}], "mark": {"type": "bar", "fill": "white", "stroke": "#333333", "strokeWidth": 1},
     "encoding": {"y": {"field": "q1", "type": "quantitative", "title": null}, "y2": {"field": "q3"}}},
    {"data": {"name": "box"}, "transform": [{"filter": {"field": "l", "equal": "Indonesian"}}], "mark": {"type": "bar", "fill": "#333333", "stroke": "#333333", "strokeWidth": 1.8},
     "encoding": {"y": {"field": "med", "type": "quantitative", "title": null}, "y2": {"field": "med"}}},
    {"data": {"name": "pts"}, "transform": [{"filter": {"field": "l", "equal": "Indonesian"}}], "mark": {"type": "point", "filled": true, "color": "#000000", "opacity": 1, "size": 10},
     "encoding": {"y": {"field": "a", "type": "quantitative", "title": null}, "xOffset": {"field": "j", "type": "quantitative", "scale": {"domain": [-0.375, 0.375]}}}}
   ]}
 ]},
 {"spacing": 0, "vconcat": [
  {"width": 613, "height": 25, "data": {"values": [{"lang": "Zhumadian Mandarin"}]}, "mark": {"type": "text", "fontSize": 13, "color": "#1A1A1A", "baseline": "middle", "font": "Liberation Sans"}, "encoding": {"text": {"field": "lang"}}, "view": {"fill": "#D6D6D6", "stroke": "#333333"}},
  {"width": 613, "height": 238,
   "resolve": {"scale": {"xOffset": "independent"}},
   "encoding": {"x": {"field": "c", "type": "nominal", "scale": {"domain": ["EarlyFall vs. LateFall", "LateFall vs. EarlyRise", "LateRise vs. RiseFall", "[la] vs. [ta]"], "paddingInner": 0.25, "paddingOuter": 0.225}, "axis": {"title": null, "labels": false, "ticks": false, "grid": true, "gridWidth": 1.1, "bandPosition": 0.5}}},
   "layer": [
    {"data": {"name": "box"}, "transform": [{"filter": {"field": "l", "equal": "Zhumadian Mandarin"}}], "mark": {"type": "rule", "color": "#333333", "strokeWidth": 1},
     "encoding": {"y": {"field": "lo", "type": "quantitative", "scale": {"domain": [-0.084, 1.079], "nice": false, "zero": false}, "axis": {"title": null, "labels": false, "ticks": false, "values": [0, 0.125, 0.25, 0.375, 0.5, 0.625, 0.75, 0.875, 1], "gridWidth": {"condition": {"test": "(datum.value * 4) % 1 != 0", "value": 0.5}, "value": 1.1}}}, "y2": {"field": "q1"}}},
    {"data": {"name": "box"}, "transform": [{"filter": {"field": "l", "equal": "Zhumadian Mandarin"}}], "mark": {"type": "rule", "color": "#333333", "strokeWidth": 1},
     "encoding": {"y": {"field": "q3", "type": "quantitative", "title": null}, "y2": {"field": "hi"}}},
    {"data": {"name": "box"}, "transform": [{"filter": {"field": "l", "equal": "Zhumadian Mandarin"}}], "mark": {"type": "bar", "fill": "white", "stroke": "#333333", "strokeWidth": 1},
     "encoding": {"y": {"field": "q1", "type": "quantitative", "title": null}, "y2": {"field": "q3"}}},
    {"data": {"name": "box"}, "transform": [{"filter": {"field": "l", "equal": "Zhumadian Mandarin"}}], "mark": {"type": "bar", "fill": "#333333", "stroke": "#333333", "strokeWidth": 1.8},
     "encoding": {"y": {"field": "med", "type": "quantitative", "title": null}, "y2": {"field": "med"}}},
    {"data": {"name": "pts"}, "transform": [{"filter": {"field": "l", "equal": "Zhumadian Mandarin"}}], "mark": {"type": "point", "filled": true, "color": "#000000", "opacity": 1, "size": 10},
     "encoding": {"y": {"field": "a", "type": "quantitative", "title": null}, "xOffset": {"field": "j", "type": "quantitative", "scale": {"domain": [-0.375, 0.375]}}}}
   ]}
 ]}
]},
{"spacing": 7, "hconcat": [
 {"spacing": 0, "vconcat": [
  {"width": 613, "height": 25, "data": {"values": [{"lang": "Swedish"}]}, "mark": {"type": "text", "fontSize": 13, "color": "#1A1A1A", "baseline": "middle", "font": "Liberation Sans"}, "encoding": {"text": {"field": "lang"}}, "view": {"fill": "#D6D6D6", "stroke": "#333333"}},
  {"width": 613, "height": 238,
   "resolve": {"scale": {"xOffset": "independent"}},
   "encoding": {"x": {"field": "c", "type": "nominal", "scale": {"domain": ["EarlyFall vs. LateFall", "LateFall vs. EarlyRise", "LateRise vs. RiseFall", "[la] vs. [ta]"], "paddingInner": 0.25, "paddingOuter": 0.225}, "axis": {"title": null, "labelAngle": 0, "labelExpr": "[slice(datum.label, 0, indexof(datum.label, ' vs.')), slice(datum.label, indexof(datum.label, ' vs.') + 1)]", "labelLineHeight": 15, "labelPadding": 3, "grid": true, "gridWidth": 1.1, "bandPosition": 0.5}}},
   "layer": [
    {"data": {"name": "box"}, "transform": [{"filter": {"field": "l", "equal": "Swedish"}}], "mark": {"type": "rule", "color": "#333333", "strokeWidth": 1},
     "encoding": {"y": {"field": "lo", "type": "quantitative", "scale": {"domain": [-0.084, 1.079], "nice": false, "zero": false}, "axis": {"title": null, "values": [0, 0.125, 0.25, 0.375, 0.5, 0.625, 0.75, 0.875, 1], "format": ".2f", "labelExpr": "(datum.value * 4) % 1 == 0 ? datum.label : ''", "gridWidth": {"condition": {"test": "(datum.value * 4) % 1 != 0", "value": 0.5}, "value": 1.1}, "tickOpacity": {"condition": {"test": "(datum.value * 4) % 1 != 0", "value": 0}, "value": 1}, "labelPadding": 2}}, "y2": {"field": "q1"}}},
    {"data": {"name": "box"}, "transform": [{"filter": {"field": "l", "equal": "Swedish"}}], "mark": {"type": "rule", "color": "#333333", "strokeWidth": 1},
     "encoding": {"y": {"field": "q3", "type": "quantitative", "title": null}, "y2": {"field": "hi"}}},
    {"data": {"name": "box"}, "transform": [{"filter": {"field": "l", "equal": "Swedish"}}], "mark": {"type": "bar", "fill": "white", "stroke": "#333333", "strokeWidth": 1},
     "encoding": {"y": {"field": "q1", "type": "quantitative", "title": null}, "y2": {"field": "q3"}}},
    {"data": {"name": "box"}, "transform": [{"filter": {"field": "l", "equal": "Swedish"}}], "mark": {"type": "bar", "fill": "#333333", "stroke": "#333333", "strokeWidth": 1.8},
     "encoding": {"y": {"field": "med", "type": "quantitative", "title": null}, "y2": {"field": "med"}}},
    {"data": {"name": "pts"}, "transform": [{"filter": {"field": "l", "equal": "Swedish"}}], "mark": {"type": "point", "filled": true, "color": "#000000", "opacity": 1, "size": 10},
     "encoding": {"y": {"field": "a", "type": "quantitative", "title": null}, "xOffset": {"field": "j", "type": "quantitative", "scale": {"domain": [-0.375, 0.375]}}}}
   ]}
 ]},
 {"spacing": 0, "vconcat": [
  {"width": 613, "height": 25, "data": {"values": [{"lang": "Taiwan Mandarin"}]}, "mark": {"type": "text", "fontSize": 13, "color": "#1A1A1A", "baseline": "middle", "font": "Liberation Sans"}, "encoding": {"text": {"field": "lang"}}, "view": {"fill": "#D6D6D6", "stroke": "#333333"}},
  {"width": 613, "height": 238,
   "resolve": {"scale": {"xOffset": "independent"}},
   "encoding": {"x": {"field": "c", "type": "nominal", "scale": {"domain": ["EarlyFall vs. LateFall", "LateFall vs. EarlyRise", "LateRise vs. RiseFall", "[la] vs. [ta]"], "paddingInner": 0.25, "paddingOuter": 0.225}, "axis": {"title": null, "labelAngle": 0, "labelExpr": "[slice(datum.label, 0, indexof(datum.label, ' vs.')), slice(datum.label, indexof(datum.label, ' vs.') + 1)]", "labelLineHeight": 15, "labelPadding": 3, "grid": true, "gridWidth": 1.1, "bandPosition": 0.5}}},
   "layer": [
    {"data": {"name": "box"}, "transform": [{"filter": {"field": "l", "equal": "Taiwan Mandarin"}}], "mark": {"type": "rule", "color": "#333333", "strokeWidth": 1},
     "encoding": {"y": {"field": "lo", "type": "quantitative", "scale": {"domain": [-0.084, 1.079], "nice": false, "zero": false}, "axis": {"title": null, "labels": false, "ticks": false, "values": [0, 0.125, 0.25, 0.375, 0.5, 0.625, 0.75, 0.875, 1], "gridWidth": {"condition": {"test": "(datum.value * 4) % 1 != 0", "value": 0.5}, "value": 1.1}}}, "y2": {"field": "q1"}}},
    {"data": {"name": "box"}, "transform": [{"filter": {"field": "l", "equal": "Taiwan Mandarin"}}], "mark": {"type": "rule", "color": "#333333", "strokeWidth": 1},
     "encoding": {"y": {"field": "q3", "type": "quantitative", "title": null}, "y2": {"field": "hi"}}},
    {"data": {"name": "box"}, "transform": [{"filter": {"field": "l", "equal": "Taiwan Mandarin"}}], "mark": {"type": "bar", "fill": "white", "stroke": "#333333", "strokeWidth": 1},
     "encoding": {"y": {"field": "q1", "type": "quantitative", "title": null}, "y2": {"field": "q3"}}},
    {"data": {"name": "box"}, "transform": [{"filter": {"field": "l", "equal": "Taiwan Mandarin"}}], "mark": {"type": "bar", "fill": "#333333", "stroke": "#333333", "strokeWidth": 1.8},
     "encoding": {"y": {"field": "med", "type": "quantitative", "title": null}, "y2": {"field": "med"}}},
    {"data": {"name": "pts"}, "transform": [{"filter": {"field": "l", "equal": "Taiwan Mandarin"}}], "mark": {"type": "point", "filled": true, "color": "#000000", "opacity": 1, "size": 10},
     "encoding": {"y": {"field": "a", "type": "quantitative", "title": null}, "xOffset": {"field": "j", "type": "quantitative", "scale": {"domain": [-0.375, 0.375]}}}}
   ]}
 ]}
]}
]
}
]
}
